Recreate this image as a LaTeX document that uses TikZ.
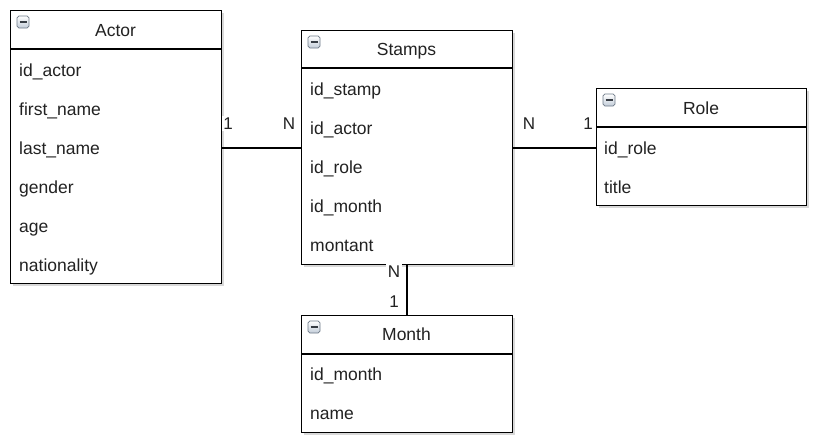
\documentclass[tikz,border=0pt]{standalone}
\usepackage{fontspec}
\setmainfont{Liberation Sans}
\usetikzlibrary{shadows}
\definecolor{txt}{HTML}{222222}
\definecolor{iconbg}{HTML}{C3CDD9}
\definecolor{iconbd}{HTML}{6E7A88}
\tikzset{
  entbox/.style={draw=black, line width=1.3pt, fill=white, anchor=north west, inner sep=0pt,
    drop shadow={shadow xshift=2.5pt, shadow yshift=-2.5pt, opacity=0.25, fill=black!60}},
  title/.style={font=\fontsize{17.5}{19}\selectfont, text=txt, inner sep=0pt, anchor=base},
  item/.style={font=\fontsize{17.5}{19}\selectfont, text=txt, anchor=base west, inner sep=0pt},
  card/.style={font=\fontsize{17}{19}\selectfont, text=txt, fill=white, inner sep=1.5pt, text height=12pt, text depth=0pt},
  icon/.style={draw=iconbd, line width=0.7pt, rounded corners=1.8pt, top color=white, bottom color=iconbg,
    minimum width=12pt, minimum height=12pt, inner sep=0pt},
  conn/.style={draw=black, line width=1.3pt},
  sep/.style={draw=black, line width=1.3pt}
}
\newcommand{\minusicon}[2]{%
  \node[icon] (#1) at #2 {};
  \draw[line width=1.4pt, iconbd!50!black] ([xshift=-3.5pt]#1.center) -- ([xshift=3.5pt]#1.center);
}
\begin{document}
\begin{tikzpicture}[x=1pt,y=-1pt]
\path[use as bounding box] (0,0) rectangle (822,447);
\fill[white] (0,0) rectangle (822,447);

% Actor
\node[entbox, minimum width=211pt, minimum height=273pt] (actor) at (10,10) {};
\draw[sep] (10,49) -- (221,49);
\minusicon{actoricon}{(23,22)}
\node[title] (actortitle) at (115.5,36.5) {Actor};
\node[item] (a1) at (19,76.5) {id\_actor};
\node[item] (a2) at (19,115.5) {first\_name};
\node[item] (a3) at (19,154.5) {last\_name};
\node[item] (a4) at (19,193.5) {gender};
\node[item] (a5) at (19,232.5) {age};
\node[item] (a6) at (19,271.5) {nationality};

% Stamps
\node[entbox, minimum width=211pt, minimum height=234pt] (stamps) at (301,30) {};
\draw[sep] (301,68) -- (512,68);
\minusicon{stampsicon}{(314,42)}
\node[title] (stampstitle) at (406.5,55.5) {Stamps};
\node[item] (s1) at (310,95.5) {id\_stamp};
\node[item] (s2) at (310,134.5) {id\_actor};
\node[item] (s3) at (310,173.5) {id\_role};
\node[item] (s4) at (310,212.5) {id\_month};
\node[item] (s5) at (310,251.5) {montant};

% Role
\node[entbox, minimum width=210pt, minimum height=117pt] (role) at (596,88) {};
\draw[sep] (596,127) -- (806,127);
\minusicon{roleicon}{(609,100)}
\node[title] (roletitle) at (701,114.5) {Role};
\node[item] (r1) at (604,154.5) {id\_role};
\node[item] (r2) at (604,193.5) {title};

% Month
\node[entbox, minimum width=211pt, minimum height=117pt] (month) at (301,315) {};
\draw[sep] (301,354) -- (512,354);
\minusicon{monthicon}{(314,327)}
\node[title] (monthtitle) at (406.5,340.5) {Month};
\node[item] (m1) at (310,380.5) {id\_month};
\node[item] (m2) at (310,419.5) {name};

% connectors
\coordinate (c1) at (221,148);
\coordinate (c2) at (301,148);
\draw[conn] (c1) -- (c2);
\coordinate (c3) at (512,148);
\coordinate (c4) at (596,148);
\draw[conn] (c3) -- (c4);
\coordinate (c5) at (407,264);
\coordinate (c6) at (407,315);
\draw[conn] (c5) -- (c6);

% cardinalities
\node[card] (l1) at (228,123) {1};
\node[card] (l2) at (289,123) {N};
\node[card] (l3) at (529,123) {N};
\node[card] (l4) at (588,123) {1};
\node[card] (l5) at (394,271) {N};
\node[card] (l6) at (394,301) {1};
\end{tikzpicture}
\end{document}
